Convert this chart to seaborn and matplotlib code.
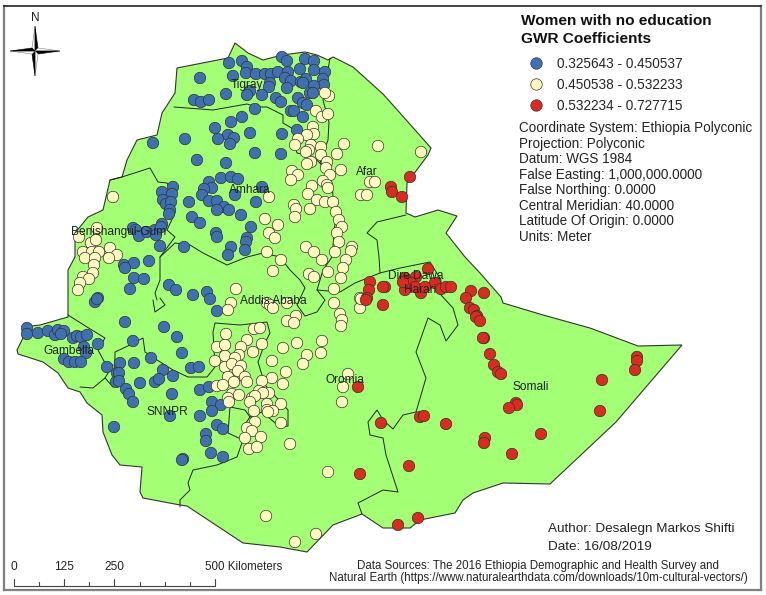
import pandas as pd
import matplotlib
matplotlib.use('Agg')
import matplotlib.pyplot as plt
import seaborn as sns

# map positions are in the picture's own units (x right, y down)
blue_pts = [(229,63),(242,61),(247,67),(246,73),(256,74),(265,74),(271,74),(278,72),(282,57),(287,61),(288,72),
    (305,59),(314,61),(300,69),(314,70),(325,72),(200,78),(233,76),(270,83),(269,87),(285,78),(291,81),(287,88),
    (301,82),(306,79),(303,83),(323,79),(324,85),(314,86),(310,93),(313,93),(250,91),(247,95),(226,94),(262,95),
    (194,100),(201,102),(209,100),(276,98),(281,102),(298,98),(303,103),(307,105),(255,109),(291,111),(294,111),
    (303,117),(242,117),(231,122),(215,128),(250,133),(228,135),(234,138),(218,139),(230,144),(185,139),(153,143),
    (282,134),(297,130),(255,153),(281,154),(197,160),(226,163),(221,178),(231,177),(238,179),(209,182),(212,188),
    (204,189),(202,195),(262,187),(235,195),(256,202),(173,187),(162,192),(172,194),(163,200),(166,204),(171,202),
    (189,202),(209,201),(217,201),(224,207),(217,210),(229,210),(241,215),(170,210),(169,214),(192,217),(200,223),
    (162,224),(251,227),(133,228),(136,230),(139,236),(147,232),(155,230),(156,235),(161,227),(216,233),(217,237),
    (247,238),(246,242),(160,246),(184,247),(231,247),(245,250),(228,255),(124,265),(134,263),(149,261),(125,268),
    (134,278),(144,279),(130,289),(169,285),(176,290),(193,295),(207,292),(210,299),(98,298),(95,302),(97,299),
    (217,311),(125,322),(164,327),(177,337),(182,353),(133,341),(98,344),(27,328),(27,334),(38,333),(48,331),
    (55,335),(58,330),(64,331),(61,334),(73,338),(77,336),(81,337),(87,335),(84,347),(86,353),(64,359),(69,362),
    (75,362),(81,362),(107,367),(120,363),(134,363),(151,358),(163,370),(173,376),(191,368),(199,367),(117,373),
    (119,373),(116,382),(119,381),(140,383),(155,382),(159,379),(126,389),(129,394),(133,402),(172,394),(200,390),
    (209,387),(212,402),(221,405),(212,411),(170,416),(200,416),(217,425),(223,429),(114,427),(206,434),(206,441),
    (211,453),(223,457),(183,459),(182,460)]

cream_pts = [(329,96),(325,93),(316,111),(322,117),(328,114),(313,127),(314,134),(307,135),(298,139),(295,145),
    (311,145),(321,147),(344,144),(378,146),(309,150),(306,152),(321,155),(337,154),(327,162),(311,162),(307,164),
    (326,168),(330,175),(341,170),(292,171),(298,175),(291,180),(323,181),(327,185),(328,188),(312,186),(370,182),
    (375,182),(361,195),(367,195),(308,194),(317,200),(325,202),(333,202),(269,197),(113,197),(294,205),(296,209),
    (310,209),(336,212),(295,217),(339,220),(342,227),(265,219),(278,225),(337,233),(269,233),(275,238),(339,242),
    (97,228),(306,247),(314,252),(352,247),(351,251),(335,252),(322,260),(346,260),(267,252),(281,260),(343,268),
    (328,272),(273,271),(309,274),(314,277),(341,278),(334,289),(236,289),(360,298),(91,243),(96,240),(83,252),
    (92,252),(99,252),(85,258),(95,258),(110,248),(117,255),(109,258),(94,265),(93,273),(83,277),(89,279),(80,283),
    (78,290),(79,237),(231,303),(228,310),(267,303),(270,305),(273,308),(287,303),(334,303),(360,308),(361,299),
    (340,314),(342,320),(341,326),(296,316),(287,321),(294,323),(254,329),(260,328),(226,334),(247,340),(262,344),
    (297,343),(322,341),(217,347),(225,345),(241,347),(283,348),(253,352),(321,353),(307,355),(225,356),(239,355),
    (235,358),(215,361),(272,361),(303,364),(225,367),(232,364),(241,366),(238,371),(286,372),(228,377),(245,377),
    (348,374),(272,378),(262,381),(247,382),(234,382),(283,384),(217,386),(223,385),(343,387),(259,391),(269,393),
    (263,393),(232,394),(239,395),(228,398),(229,402),(252,398),(255,396),(250,402),(342,402),(281,404),(267,404),
    (267,410),(273,411),(268,412),(254,411),(255,422),(281,423),(247,428),(252,431),(261,437),(245,438),(290,444),
    (249,449),(257,447),(328,472),(266,516),(316,534),(295,542),(421,152)]

red_pts = [(410,177),(391,187),(392,192),(402,197),(428,269),(405,278),(408,282),(416,277),(405,290),(420,290),
    (421,293),(435,283),(441,289),(446,287),(451,287),(471,291),(484,293),(466,298),(385,287),(411,283),(415,287),
    (425,287),(403,282),(370,282),(383,287),(369,290),(367,298),(366,300),(383,305),(358,387),(381,423),(360,474),
    (470,308),(474,310),(477,316),(476,317),(480,321),(484,338),(483,338),(490,354),(494,365),(498,372),(501,374),
    (516,403),(517,405),(509,408),(420,417),(424,416),(446,424),(485,438),(484,443),(512,454),(541,434),(409,466),
    (418,518),(398,525),(602,380),(600,411),(637,357),(637,361),(635,370)]

class_labels = ['0.325643 - 0.450537', '0.450538 - 0.532233', '0.532234 - 0.727715']
class_colors = ['#3F70B2', '#FFF9BF', '#DC2A20']

country = [(177,68),(228,58),(235,43),(248,53),(263,60),(282,55),(305,52),(317,55),(328,60),(333,57),(353,67),
    (383,94),(400,113),(431,148),(428,155),(407,183),(406,213),(415,217),(438,210),(457,216),(446,233),(465,257),
    (480,273),(501,297),(503,303),(543,315),(590,328),(638,346),(682,345),(616,422),(550,484),(503,483),(473,493),
    (463,500),(455,513),(420,520),(410,528),(383,528),(362,514),(333,525),(307,552),(280,547),(243,543),(187,506),
    (180,505),(143,498),(140,492),(142,467),(120,465),(112,455),(103,432),(102,415),(87,403),(80,392),(68,388),
    (58,373),(43,362),(18,354),(17,350),(23,338),(23,327),(40,325),(68,317),(68,295),(68,270),(75,257),(75,233),
    (88,217),(103,210),(110,180),(122,177),(127,160),(137,140),(157,135),(162,113),(175,93),(177,68)]

regions = [
    [(174,107),(187,108),(213,110),(247,104),(257,107),(267,107),(283,115),(283,123),(295,130),(293,140),(297,153),(313,157),(320,163)],
    [(330,58),(323,100),(329,122),(328,140),(320,163),(332,183),(335,223),(332,257),(323,270),(317,290),(325,300),(317,312),(305,316),(297,305),(305,288),(300,280),(290,270),(280,257),(263,253),(247,257),(227,265),(203,253),(190,245),(175,243),(160,257),(160,280),(155,293),(157,300)],
    [(110,180),(122,177),(150,168),(158,182),(167,183),(173,193),(175,213),(167,230),(175,237),(160,257)],
    [(153,300),(155,312),(165,305),(160,298)],
    [(68,315),(87,327),(105,338),(98,350),(105,363),(113,365),(105,378),(93,388),(80,387)],
    [(105,378),(113,387),(115,357),(115,352),(130,345),(143,338),(145,352),(157,360),(173,370),(188,377),(207,377),(215,367),(213,332),(215,323),(240,325),(267,322),(270,333),(265,343),(258,362),(265,385),(288,410),(288,426),(280,427),(262,412),(250,417),(243,427)],
    [(230,407),(245,410),(250,417)],
    [(230,407),(228,433),(243,440),(237,457),(217,465),(193,470),(188,483),(190,490),(180,500),(180,507)],
    [(406,215),(377,222),(367,233),(377,240),(379,257),(380,273),(355,283),(340,292),(317,290)],
    [(380,273),(400,268),(430,262),(441,280),(441,295),(453,308),(458,325),(446,341),(440,325),(428,318),(416,352),(426,378),(416,412),(403,415),(393,429),(383,420),(377,410),(368,422),(370,435),(383,438),(386,455),(398,492),(383,490),(358,503),(362,514)],
]

place_names = ['Tigray', 'Amhara', 'Afar', 'Benishangul-Gum', 'Addis Ababa', 'Dire Dawa', 'Harari',
               'Gambella', 'SNNPR', 'Oromia', 'Somali']
place_x = [247, 250, 367, 119, 273, 416, 420, 69, 167, 345, 531]
place_y = [85, 190, 172, 232, 301, 276, 290, 351, 412, 380, 387]

info_lines = ['Coordinate System: Ethiopia Polyconic', 'Projection: Polyconic', 'Datum: WGS 1984',
              'False Easting: 1,000,000.0000', 'False Northing: 0.0000', 'Central Meridian: 40.0000',
              'Latitude Of Origin: 0.0000', 'Units: Meter']

df = pd.DataFrame(
    [(x, y, class_labels[0]) for x, y in blue_pts] +
    [(x, y, class_labels[1]) for x, y in cream_pts] +
    [(x, y, class_labels[2]) for x, y in red_pts],
    columns=['x', 'y', 'coef'])

sns.set_theme(style='white')
plt.rcParams['font.family'] = ['Liberation Sans', 'DejaVu Sans']

W, H = 766, 595
fig = plt.figure(figsize=(W / 100, H / 100), dpi=100)
ax = fig.add_axes([4 / W, 1 - 590 / H, 757 / W, 584 / H])
ax.set_xlim(4, 761)
ax.set_ylim(590, 6)
ax.set_xticks([])
ax.set_yticks([])
for side, spine in ax.spines.items():
    spine.set_color('#222222' if side == 'top' else '#7f7f7f')
    spine.set_linewidth(1.2 if side == 'top' else 1.6)

# country and regions
ax.fill(*zip(*country), facecolor='#A3FF73', edgecolor='#333333', linewidth=0.8, zorder=1)
for r in regions:
    ax.plot(*zip(*r), color='#222222', linewidth=0.7, zorder=1.5)

sns.scatterplot(data=df, x='x', y='y', hue='coef', hue_order=class_labels,
                palette=dict(zip(class_labels, class_colors)), s=68,
                edgecolor='#333333', linewidth=0.5, ax=ax, zorder=2)
ax.set_xlabel('')
ax.set_ylabel('')

sns.move_legend(ax, 'upper left', bbox_to_anchor=((522 - 4) / 757, 1 - (57 - 6) / 584), frameon=False,
                title=None, fontsize=9.8, labelspacing=0.5, handletextpad=0.55, borderpad=0, borderaxespad=0)

for name, x, y in zip(place_names, place_x, place_y):
    ax.text(x, y, name, ha='center', va='center', fontsize=8.6, color='#222222', zorder=3)

# legend title and notes
ax.text(521, 21, 'Women with no education', fontsize=11.1, fontweight='bold', va='center', color='#111111')
ax.text(521, 39, 'GWR Coefficients', fontsize=11.1, fontweight='bold', va='center', color='#111111')
for i, line in enumerate(info_lines):
    ax.text(519, 128 + i * 15.55, line, fontsize=9.75, va='center', color='#222222')
ax.text(548, 529, 'Author: Desalegn Markos Shifti', fontsize=9.7, va='center', color='#222222')
ax.text(548, 547, 'Date: 16/08/2019', fontsize=9.7, va='center', color='#222222')
ax.text(357, 566, 'Data Sources: The 2016 Ethiopia Demographic and Health Survey and', fontsize=8.3,
        va='center', color='#222222')
ax.text(329, 578, 'Natural Earth (https://www.naturalearthdata.com/downloads/10m-cultural-vectors/)', fontsize=8.3,
        va='center', color='#222222')

# scale bar
ax.plot([14, 215], [586, 586], color='#444444', linewidth=0.8, zorder=3)
for i in range(9):
    tx = 14 + i * 25.1
    ax.plot([tx, tx], [586, 579 if i in (0, 2, 4, 8) else 582], color='#444444', linewidth=0.8, zorder=3)
ax.text(14, 567, '0', fontsize=8.6, ha='center', va='center', color='#222222')
ax.text(64, 567, '125', fontsize=8.6, ha='center', va='center', color='#222222')
ax.text(114, 567, '250', fontsize=8.6, ha='center', va='center', color='#222222')
ax.text(205, 567, '500 Kilometers', fontsize=8.3, ha='left', va='center', color='#222222')

# north arrow
cx, cy = 35, 51
arms = [((0, -25), (-3, -3), (3, -3)), ((25, 0), (3, -3), (3, 3)), ((0, 25), (3, 3), (-3, 3)), ((-25, 0), (-3, 3), (-3, -3))]
for tip, a, b in arms:
    ax.fill([cx + tip[0], cx + a[0], cx], [cy + tip[1], cy + a[1], cy], facecolor='white', edgecolor='#777777',
            linewidth=0.4, zorder=3)
    ax.fill([cx + tip[0], cx + b[0], cx], [cy + tip[1], cy + b[1], cy], facecolor='black', edgecolor='black',
            linewidth=0.4, zorder=3)
ax.text(cx, 18, 'N', fontsize=8.5, ha='center', va='center', color='#222222')

plt.savefig('out.png', dpi=100)
